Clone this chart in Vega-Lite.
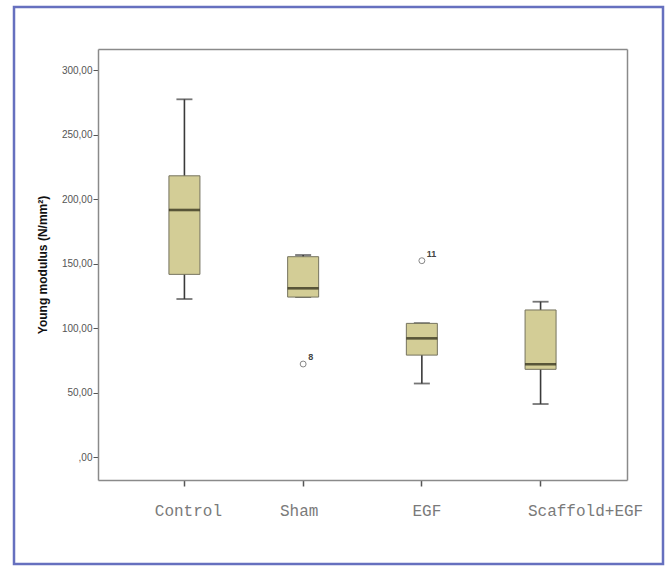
{
  "$schema": "https://vega.github.io/schema/vega-lite/v6.json",
  "width": 649,
  "height": 557,
  "autosize": "none",
  "padding": {"left": 14, "top": 7, "right": 2, "bottom": 2},
  "background": "white",
  "config": {
    "view": {"stroke": "#6670bf", "strokeWidth": 2.5},
    "axis": {"grid": false}
  },
  "datasets": {
    "boxes": [
      {"group": "Control", "lower": 122.5, "q1": 141.6, "median": 191.5, "q3": 218, "upper": 277.3},
      {"group": "Sham", "lower": 124, "q1": 124, "median": 130.8, "q3": 155.3, "upper": 156.6},
      {"group": "EGF", "lower": 57, "q1": 79, "median": 92, "q3": 103.6, "upper": 103.8},
      {"group": "Scaffold+EGF", "lower": 41.1, "q1": 68, "median": 71.9, "q3": 114, "upper": 120.4}
    ],
    "outliers": [
      {"group": "Sham", "value": 72.1, "label": "8"},
      {"group": "EGF", "value": 152.2, "label": "11"}
    ]
  },
  "resolve": {"axis": {"x": "independent", "y": "independent"}},
  "layer": [
    {
      "data": {"name": "boxes"},
      "mark": {"type": "rule", "color": "#3a3a3a", "strokeWidth": 1.6},
      "encoding": {
        "x": {
          "field": "group", "type": "nominal", "sort": null,
          "scale": {"type": "band", "domain": ["Control", "Sham", "EGF", "Scaffold+EGF"], "range": [84, 613], "paddingInner": 0, "paddingOuter": 0.228},
          "axis": {
            "orient": "bottom", "offset": -84, "title": null, "labelAngle": 0,
            "domainColor": "#8a8a8a", "domainWidth": 1.5,
            "tickColor": "#555555", "tickSize": 6, "tickWidth": 1.5,
            "labelFont": "Liberation Mono", "labelFontSize": 16, "labelColor": "#7a7a7a",
            "labelPadding": 16,
            "labelOffset": {"condition": [
              {"test": "datum.value == 'Scaffold+EGF'", "value": 45},
              {"test": "datum.value == 'Sham'", "value": -4},
              {"test": "datum.value == 'EGF'", "value": 5}
            ], "value": 4}
          }
        },
        "y": {
          "field": "lower", "type": "quantitative",
          "scale": {"domain": [-17.8, 316.3], "range": [473, 42], "nice": false, "zero": false},
          "axis": {
            "orient": "left", "offset": -84, "title": "Young modulus (N/mm²)",
            "values": [0, 50, 100, 150, 200, 250, 300],
            "labelExpr": "datum.value == 0 ? ',00' : replace(format(datum.value, '.2f'), '.', ',')",
            "domainColor": "#8a8a8a", "domainWidth": 1.5,
            "tickColor": "#555555", "tickSize": 5, "tickWidth": 1,
            "labelFont": "Liberation Sans", "labelFontSize": 10, "labelColor": "#555555", "labelPadding": 1,
            "titleFont": "Liberation Sans", "titleFontSize": 12, "titleFontWeight": "bold", "titleColor": "#111111",
            "titlePadding": 12
          }
        },
        "y2": {"field": "upper"}
      }
    },
    {
      "data": {"name": "boxes"},
      "mark": {"type": "tick", "color": "#3a3a3a", "thickness": 1.8, "size": 16},
      "encoding": {
        "x": {"field": "group", "type": "nominal", "sort": null,
          "scale": {"type": "band", "domain": ["Control", "Sham", "EGF", "Scaffold+EGF"], "range": [84, 613], "paddingInner": 0, "paddingOuter": 0.228},
          "axis": {"orient": "top", "offset": -42, "labels": false, "ticks": false, "title": null, "domainColor": "#8a8a8a", "domainWidth": 1.5}},
        "y": {"field": "upper", "type": "quantitative",
          "scale": {"domain": [-17.8, 316.3], "range": [473, 42], "nice": false, "zero": false},
          "axis": {"orient": "right", "offset": -36, "labels": false, "ticks": false, "title": null, "domainColor": "#8a8a8a", "domainWidth": 1.5}}
      }
    },
    {
      "data": {"name": "boxes"},
      "mark": {"type": "tick", "color": "#3a3a3a", "thickness": 1.8, "size": 16},
      "encoding": {
        "x": {"field": "group", "type": "nominal", "sort": null, "axis": null},
        "y": {"field": "lower", "type": "quantitative", "axis": null}
      }
    },
    {
      "data": {"name": "boxes"},
      "mark": {"type": "bar", "width": 31, "fill": "#d3cd96", "stroke": "#75735e", "strokeWidth": 1},
      "encoding": {
        "x": {"field": "group", "type": "nominal", "sort": null, "axis": null},
        "y": {"field": "q1", "type": "quantitative", "axis": null},
        "y2": {"field": "q3"}
      }
    },
    {
      "data": {"name": "boxes"},
      "mark": {"type": "tick", "color": "#23220f", "thickness": 2.6, "size": 31},
      "encoding": {
        "x": {"field": "group", "type": "nominal", "sort": null, "axis": null},
        "y": {"field": "median", "type": "quantitative", "axis": null}
      }
    },
    {
      "data": {"name": "outliers"},
      "mark": {"type": "point", "shape": "circle", "filled": false, "size": 35, "stroke": "#555555", "strokeWidth": 1},
      "encoding": {
        "x": {"field": "group", "type": "nominal", "sort": null, "axis": null},
        "y": {"field": "value", "type": "quantitative", "axis": null}
      }
    },
    {
      "data": {"name": "outliers"},
      "mark": {"type": "text", "align": "left", "baseline": "middle", "dx": 5, "dy": -7, "fontSize": 9, "font": "Liberation Sans", "fontWeight": "bold", "color": "#444444"},
      "encoding": {
        "x": {"field": "group", "type": "nominal", "sort": null, "axis": null},
        "y": {"field": "value", "type": "quantitative", "axis": null},
        "text": {"field": "label", "type": "nominal"}
      }
    }
  ]
}
